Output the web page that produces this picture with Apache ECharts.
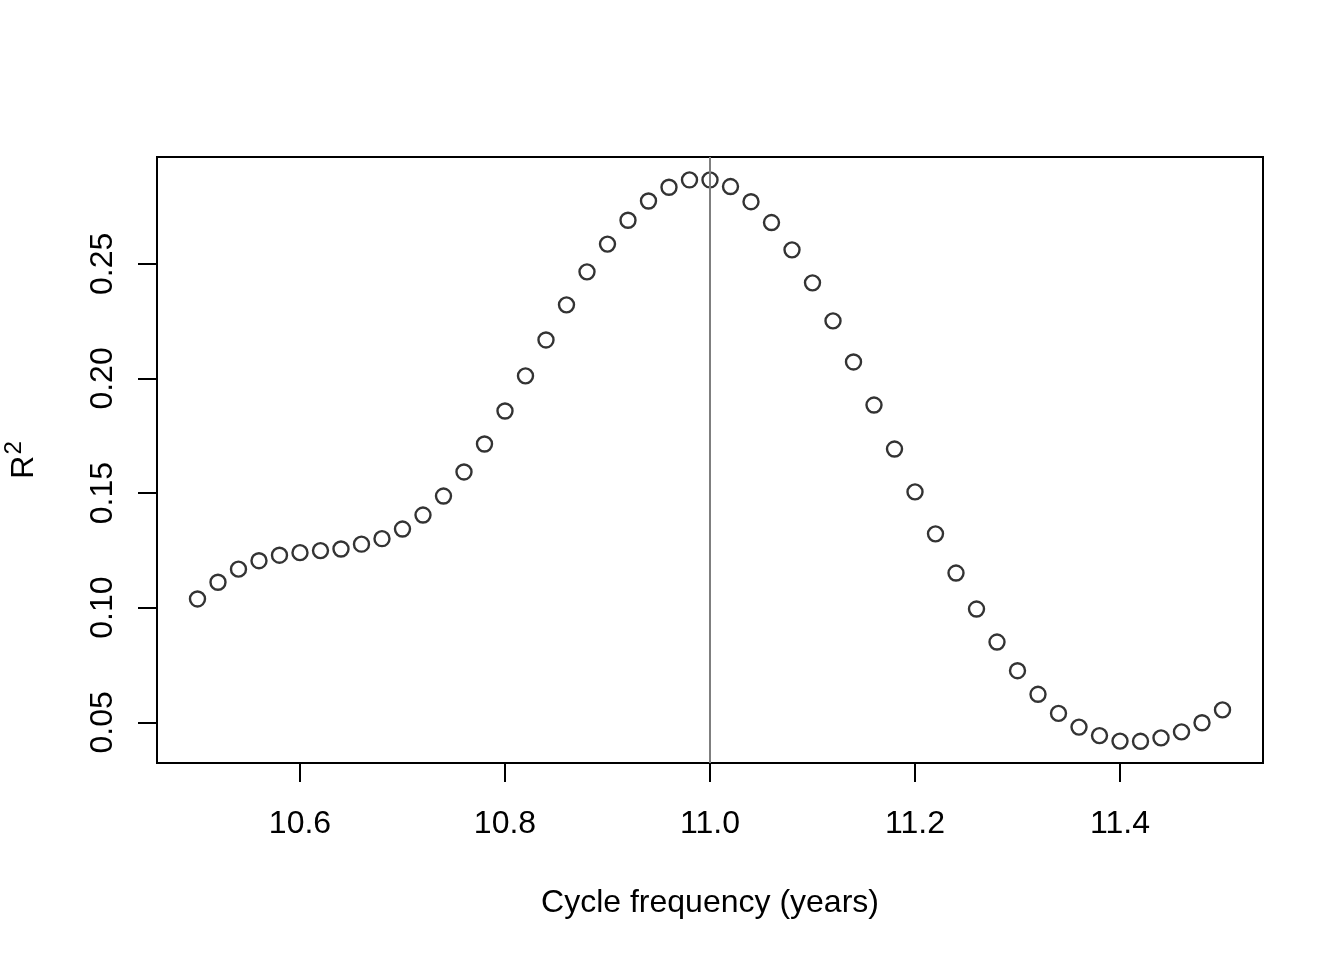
<!DOCTYPE html>
<html>
<head>
<meta charset="utf-8">
<script src="https://cdn.jsdelivr.net/npm/echarts@6/dist/echarts.min.js"></script>
<style>html,body{margin:0;padding:0;background:#fff;}#c{width:1344px;height:960px;}</style>
</head>
<body>
<div id="c"></div>
<script>
const cycleYears = [10.50,10.52,10.54,10.56,10.58,10.60,10.62,10.64,10.66,10.68,10.70,10.72,10.74,10.76,10.78,10.80,10.82,10.84,10.86,10.88,10.90,10.92,10.94,10.96,10.98,11.00,11.02,11.04,11.06,11.08,11.10,11.12,11.14,11.16,11.18,11.20,11.22,11.24,11.26,11.28,11.30,11.32,11.34,11.36,11.38,11.40,11.42,11.44,11.46,11.48,11.50];
const rSquared = [0.1038,0.1111,0.1168,0.1205,0.1229,0.1240,0.1249,0.1256,0.1277,0.1301,0.1343,0.1404,0.1487,0.1592,0.1714,0.1858,0.2011,0.2168,0.2321,0.2465,0.2586,0.2690,0.2774,0.2834,0.2866,0.2866,0.2837,0.2771,0.2680,0.2561,0.2417,0.2251,0.2072,0.1884,0.1692,0.1505,0.1322,0.1151,0.0994,0.0850,0.0725,0.0622,0.0539,0.0479,0.0442,0.0418,0.0417,0.0432,0.0458,0.0498,0.0554];
const xTicks = [10.6, 10.8, 11.0, 11.2, 11.4];
const yTicks = [0.05, 0.10, 0.15, 0.20, 0.25];
const refLineX = 11.0;

const chart = echarts.init(document.getElementById('c'), null, {renderer: 'canvas'});
const font = 'Liberation Sans, Arial, Helvetica, sans-serif';
chart.setOption({
  animation: false,
  backgroundColor: '#fff',
  grid: {left: 157, right: 81, top: 157, bottom: 197, show: true, borderColor: '#000', borderWidth: 2, backgroundColor: 'transparent', containLabel: false, outerBoundsMode: 'none'},
  xAxis: {
    type: 'value', min: 10.4605, max: 11.5395,
    splitLine: {show: false},
    axisLine: {show: false},
    axisTick: {show: true, customValues: xTicks, length: 19, inside: false, lineStyle: {color: '#000', width: 2}},
    axisLabel: {customValues: xTicks, formatter: v => v.toFixed(1), color: '#000', fontSize: 32, fontFamily: font, margin: 45},
    name: 'Cycle frequency (years)', nameLocation: 'middle', nameGap: 124,
    nameTextStyle: {color: '#000', fontSize: 32, fontFamily: font}
  },
  yAxis: {
    type: 'value', min: 0.03224, max: 0.2966,
    splitLine: {show: false},
    axisLine: {show: false},
    axisTick: {show: true, customValues: yTicks, length: 19, inside: false, lineStyle: {color: '#000', width: 2}},
    axisLabel: {customValues: yTicks, formatter: v => v.toFixed(2), color: '#000', fontSize: 32, fontFamily: font, margin: 38, rotate: 90},
    name: '{r|R}{s|2}', nameLocation: 'middle', nameGap: 111, nameRotate: 90,
    nameTextStyle: {color: '#000', fontFamily: font,
      rich: {r: {fontSize: 32, fontFamily: font, color: '#000'}, s: {fontSize: 24, fontFamily: font, color: '#000', padding: [0, 0, 20, 1]}}}
  },
  series: [{
    type: 'scatter',
    data: cycleYears.map((x, i) => [x, rSquared[i]]),
    symbol: 'circle', symbolSize: 15,
    itemStyle: {color: 'rgba(0,0,0,0)', borderColor: '#000', borderWidth: 2.4},
    markLine: {
      silent: true, symbol: 'none', animation: false,
      label: {show: false},
      lineStyle: {color: '#7f7f7f', width: 2, type: 'solid'},
      data: [{xAxis: refLineX}]
    }
  }]
});
</script>
</body>
</html>
